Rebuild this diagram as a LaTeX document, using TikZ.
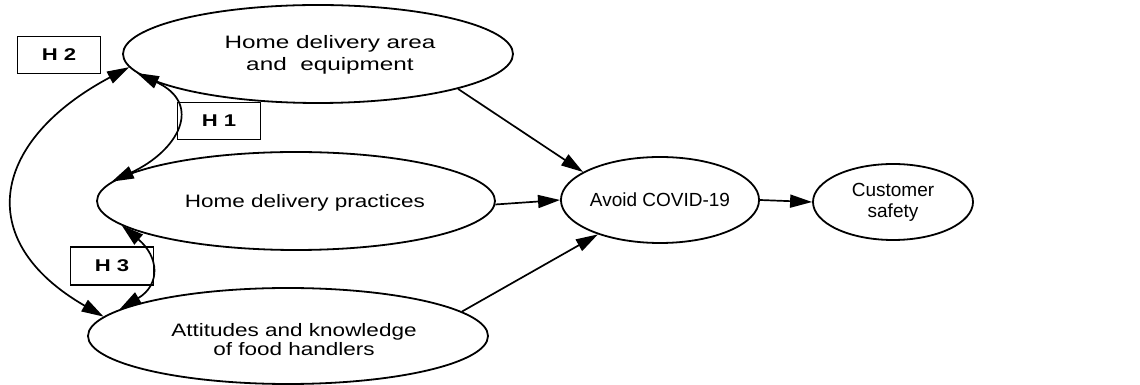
\documentclass[tikz,border=0pt]{standalone}
\usepackage{fontspec}
\setmainfont{Liberation Sans}
\usetikzlibrary{shapes.geometric,arrows.meta}
\begin{document}
\begin{tikzpicture}[x=1pt,y=1pt,
  ell/.style={draw,ellipse,line width=1.8pt,inner sep=0pt},
  hbox/.style={draw,rectangle,line width=1.7pt,minimum width=83pt,minimum height=37pt,inner sep=0pt,font=\fontsize{17}{18}\selectfont\bfseries},
  txt/.style={align=center,inner sep=0pt},
  con/.style={line width=1.7pt,-{Triangle[length=22pt,width=13pt]}},
  bicon/.style={line width=1.7pt,{Triangle[length=22pt,width=13pt]}-{Triangle[length=22pt,width=13pt]}}
]
\useasboundingbox (0,0) rectangle (1140,385);
% ellipses
\node[ell,minimum width=390pt,minimum height=98pt] (e1) at (318,331) {};
\node[ell,minimum width=398pt,minimum height=98pt] (e2) at (296,184) {};
\node[ell,minimum width=400pt,minimum height=96pt] (e3) at (288,49) {};
\node[ell,minimum width=164pt,minimum height=86pt,font=\fontsize{19}{21}\selectfont] (av) at (660,185) {Avoid COVID-19};
\node[ell,minimum width=160pt,minimum height=76pt,align=center,font=\fontsize{19}{21}\selectfont] (cs) at (893,183) {Customer\\safety};
% ellipse texts
\node[txt,font=\fontsize{18}{21.5}\selectfont] (e1t) at ([xshift=12pt,yshift=-1pt]e1.center) {\scalebox{1.35}[1]{Home delivery area}\\\scalebox{1.35}[1]{and\ \ equipment}};
\node[txt,font=\fontsize{18}{21}\selectfont] (e2t) at ([xshift=9pt,yshift=-2pt]e2.center) {\scalebox{1.25}[1]{Home delivery practices}};
\node[txt,font=\fontsize{18}{19}\selectfont] (e3t) at ([xshift=6pt,yshift=-4pt]e3.center) {\scalebox{1.25}[1]{Attitudes and knowledge}\\\scalebox{1.25}[1]{of food handlers}};
% hypothesis boxes
\node[hbox] (h2) at (59,330) {\scalebox{1.3}[1]{H 2}};
\node[hbox] (h1) at (219,264) {\scalebox{1.3}[1]{H 1}};
\node[hbox,minimum height=38pt] (h3) at (112,119) {\scalebox{1.3}[1]{H 3}};
% straight arrows
\draw[con] (e1.-14) -- (av.160);
\draw[con] (e2.-1) -- (av.180);
\draw[con] (e3.8.5) -- (av.209);
\draw[con] (av.east) -- (cs.west);
% correlations
\draw[bicon] (e1.186.5) to[out=-25,in=25,looseness=1.69] (e2.174);
\draw[bicon] (e1.184.5) to[out=208,in=150,looseness=1.57] (e3.174.4);
\draw[bicon] (e2.188.6) to[out=-40,in=31,looseness=1.47] (e3.171);
\end{tikzpicture}
\end{document}
